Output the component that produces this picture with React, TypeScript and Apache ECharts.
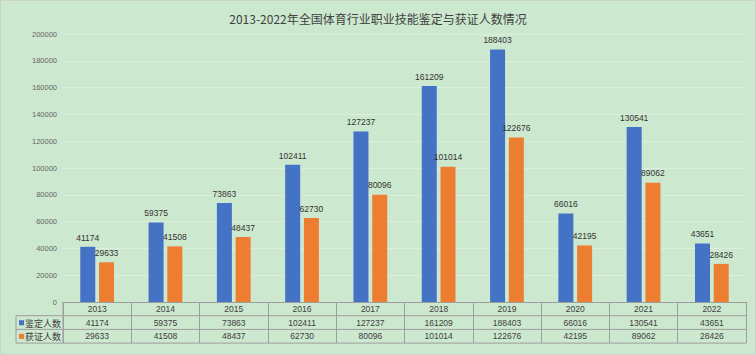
import React, { useEffect, useRef } from "react";
import * as echarts from "echarts";

const years = ["2013", "2014", "2015", "2016", "2017", "2018", "2019", "2020", "2021", "2022"];
const appraised = [41174, 59375, 73863, 102411, 127237, 161209, 188403, 66016, 130541, 43651];
const certified = [29633, 41508, 48437, 62730, 80096, 101014, 122676, 42195, 89062, 28426];
const seriesNames = ["鉴定人数", "获证人数"];
const titleText = "2013-2022年全国体育行业职业技能鉴定与获证人数情况";

const BLUE = "#4472C4";
const ORANGE = "#ED7D31";
const FONT = "'Noto Sans CJK SC', 'Noto Sans', sans-serif";
const NUMFONT = "'Liberation Sans', 'Noto Sans CJK SC', sans-serif";

const W = 756;
const H = 355;
const GL = 63;
const GR = 746;
const GT = 34;
const GB = 302;
const ROW = 13.7;
const LINE = "#9E9E9E";

export default function App() {
  const ref = useRef<HTMLDivElement>(null);
  useEffect(() => {
    if (!ref.current) return;
    const chart = echarts.init(ref.current, null, { renderer: "svg" });
    const r1 = GB + ROW;
    const r2 = GB + 2 * ROW;
    const r3 = GB + 3 * ROW;
    const hl = (y: number, x1: number) => ({
      type: "line",
      shape: { x1, y1: y, x2: GR, y2: y },
      style: { stroke: LINE, lineWidth: 1 },
      silent: true,
    });
    chart.setOption({
      animation: false,
      backgroundColor: "#CCE8CF",
      textStyle: { fontFamily: NUMFONT },
      title: {
        text: titleText,
        left: "center",
        top: 7,
        textStyle: { fontSize: 12, fontWeight: "normal", color: "#404040", fontFamily: FONT },
      },
      grid: { left: GL, right: W - GR, top: GT, bottom: H - GB, containLabel: false },
      xAxis: {
        type: "category",
        data: years,
        axisLine: { show: true, lineStyle: { color: LINE, width: 1 } },
        axisTick: { show: true, interval: 0, length: 3 * ROW, lineStyle: { color: LINE, width: 1 } },
        axisLabel: {
          interval: 0,
          margin: 0,
          formatter: (v: string, i: number) =>
            `{a|${v}}\n{a|${appraised[i]}}\n{a|${certified[i]}}`,
          rich: {
            a: { fontSize: 8.5, lineHeight: ROW, color: "#404040", fontFamily: NUMFONT },
          },
        },
      },
      yAxis: {
        type: "value",
        min: 0,
        max: 200000,
        interval: 20000,
        axisLine: { show: false },
        axisTick: { show: false },
        axisLabel: {
          fontSize: 7.5,
          color: "#666666",
          margin: 6,
          fontFamily: NUMFONT,
          formatter: (v: number) => String(v),
        },
        splitLine: { lineStyle: { color: "#DCEEDD", width: 1 } },
      },
      series: [
        {
          name: seriesNames[0],
          type: "bar",
          data: appraised,
          barWidth: 15,
          barGap: "25%",
          itemStyle: { color: BLUE },
          label: { show: true, position: "top", distance: 5, fontSize: 8.5, color: "#333333", fontFamily: NUMFONT },
        },
        {
          name: seriesNames[1],
          type: "bar",
          data: certified,
          barWidth: 15,
          itemStyle: { color: ORANGE },
          label: { show: true, position: "top", distance: 5, fontSize: 8.5, color: "#333333", fontFamily: NUMFONT },
        },
      ],
      graphic: [
        hl(r1, 16),
        hl(r2, 16),
        hl(r3, 16),
        {
          type: "line",
          shape: { x1: 16, y1: r1, x2: 16, y2: r3 },
          style: { stroke: LINE, lineWidth: 1 },
        },
        {
          type: "line",
          shape: { x1: GL, y1: GB, x2: GL, y2: r3 },
          style: { stroke: LINE, lineWidth: 1 },
        },
        { type: "rect", shape: { x: 19, y: r1 + 4.5, width: 5, height: 5 }, style: { fill: BLUE } },
        { type: "rect", shape: { x: 19, y: r2 + 4.5, width: 5, height: 5 }, style: { fill: ORANGE } },
        {
          type: "text",
          x: 25,
          y: r1 + ROW / 2 + 0.5,
          style: { text: seriesNames[0], fontSize: 9, fill: "#404040", verticalAlign: "middle", fontFamily: FONT },
        },
        {
          type: "text",
          x: 25,
          y: r2 + ROW / 2 + 0.5,
          style: { text: seriesNames[1], fontSize: 9, fill: "#404040", verticalAlign: "middle", fontFamily: FONT },
        },
        {
          type: "rect",
          shape: { x: 0.5, y: 0.5, width: W - 1, height: H - 1 },
          style: { fill: "none", stroke: "#C8D4C9", lineWidth: 1 },
          silent: true,
        },
      ],
    });
    return () => chart.dispose();
  }, []);
  return (
    <div
      ref={ref}
      style={{ position: "absolute", left: 0, top: 0, width: W, height: H }}
    />
  );
}
